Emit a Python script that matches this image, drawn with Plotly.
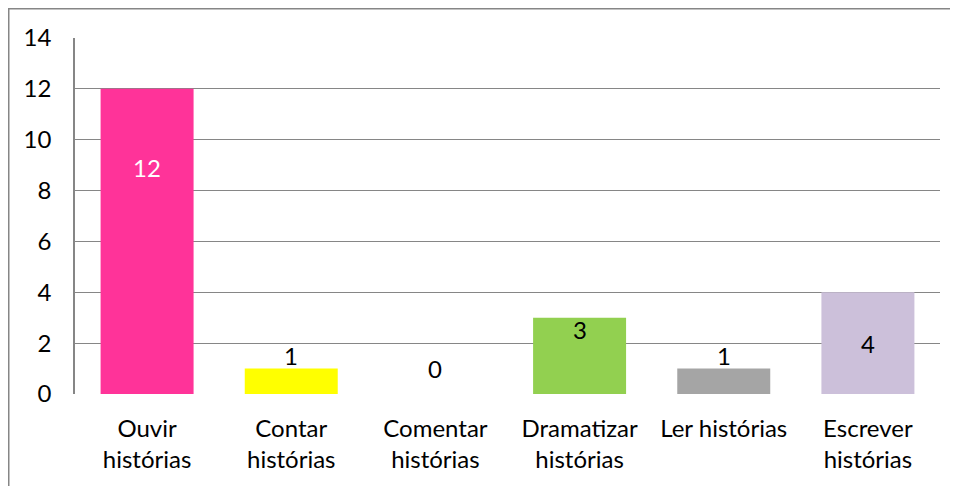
import plotly.graph_objects as go

categories = ["Ouvir<br>histórias", "Contar<br>histórias", "Comentar<br>histórias",
              "Dramatizar<br>histórias", "Ler histórias", "Escrever<br>histórias"]
values = [12, 1, 0, 3, 1, 4]
colors = ["#FF3399", "#FFFF00", "#FFFFFF", "#92D050", "#A5A5A5", "#CCC0DA"]
label_y = [8.9, 1.53, 1.02, 2.52, 1.53, 2.0]
label_colors = ["white", "black", "black", "black", "black", "black"]
y_ticks = [0, 2, 4, 6, 8, 10, 12, 14]

FONT = "Lato"
FS = 24
W, H = 950, 478
ML, MR, MT, MB = 67, 18, 30, 92
PW, PH = W - ML - MR, H - MT - MB

fig = go.Figure()
fig.add_trace(go.Bar(x=categories, y=values, marker=dict(color=colors, line=dict(width=0)),
                     hoverinfo="x+y"))

for c, v, ly, lc in zip(categories, values, label_y, label_colors):
    fig.add_annotation(x=c, y=ly, text=str(v), showarrow=False,
                       font=dict(family=FONT, size=FS, color=lc))

fig.add_shape(type="rect", xref="paper", yref="paper",
              x0=(0.75 - ML) / PW, x1=1.2, y0=-0.4, y1=(H - MB - 0.75) / PH,
              line=dict(color="#868686", width=1.5), fillcolor="rgba(0,0,0,0)", layer="below")

fig.update_layout(
    width=W, height=H,
    margin=dict(l=ML, r=MR, t=MT, b=MB),
    paper_bgcolor="white", plot_bgcolor="white",
    bargap=0.355, showlegend=False,
    font=dict(family=FONT, size=FS, color="black"),
)
fig.update_xaxes(showgrid=False, showline=False, ticks="", tickangle=0,
                 ticklabelstandoff=18, tickfont=dict(family=FONT, size=FS))
fig.update_yaxes(range=[0, 14], tickvals=y_ticks, showgrid=True, gridcolor="#868686", gridwidth=1,
                 showline=True, linecolor="#868686", linewidth=1.5, zeroline=False,
                 ticks="", ticklabelstandoff=17, tickfont=dict(family=FONT, size=FS))

fig.write_html("out.html")
